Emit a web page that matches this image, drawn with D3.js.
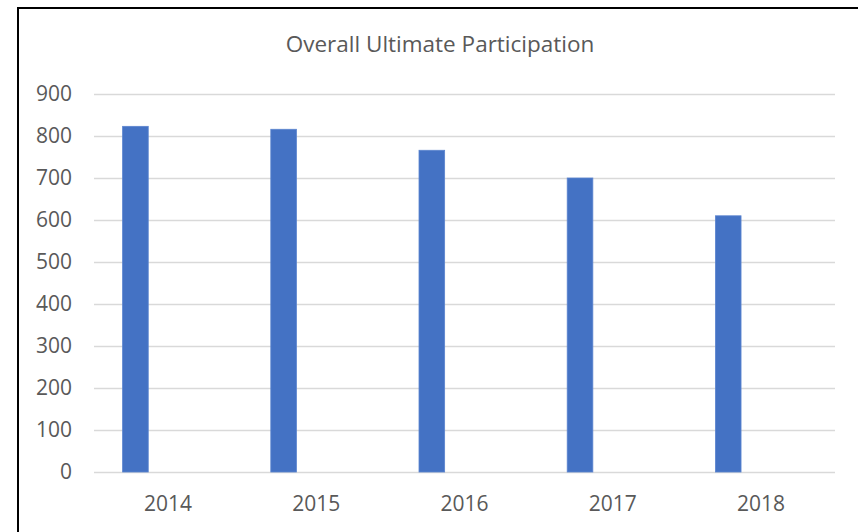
<!DOCTYPE html>
<html>
<head>
<meta charset="utf-8">
<script src="https://cdn.jsdelivr.net/npm/d3@7"></script>
<style>
  html, body { margin: 0; padding: 0; background: #fff; }
  svg { display: block; }
  text { font-family: "Open Sans", "DejaVu Sans", sans-serif; fill: #595959; }
</style>
</head>
<body>
<svg id="chart" width="858" height="532"></svg>
<script>
const title = "Overall Ultimate Participation";
const categories = ["2014", "2015", "2016", "2017", "2018"];
const values = [823, 816, 766, 700, 610];
const yTicks = [0, 100, 200, 300, 400, 500, 600, 700, 800, 900];

const svg = d3.select("#chart");
const W = 858, H = 532;
const plot = { left: 94, right: 835, top: 94, bottom: 472 };

svg.append("rect").attr("width", W).attr("height", H).attr("fill", "#fff");

// outer border (chart frame)
svg.append("rect")
  .attr("x", 18).attr("y", 8)
  .attr("width", W).attr("height", H)
  .attr("fill", "none").attr("stroke", "#000").attr("stroke-width", 2);

const x = d3.scaleBand().domain(categories).range([plot.left, plot.right]).padding(0);
const y = d3.scaleLinear().domain([0, 900]).range([plot.bottom, plot.top]);

// gridlines
svg.append("g").selectAll("line").data(yTicks).join("line")
  .attr("x1", plot.left).attr("x2", plot.right)
  .attr("y1", d => Math.round(y(d)) + 0.5).attr("y2", d => Math.round(y(d)) + 0.5)
  .attr("stroke", "#d9d9d9").attr("stroke-width", 1.5);

// y axis labels
const yAxis = d3.axisLeft(y).tickValues(yTicks).tickSize(0).tickPadding(0);
const gy = svg.append("g").attr("transform", `translate(72,0)`).call(yAxis);
gy.select(".domain").remove();
gy.selectAll("text").style("font-size", "21px").attr("fill", "#595959")
  .attr("font-family", "'Open Sans', sans-serif");

// x axis labels
const xAxis = d3.axisBottom(x).tickSize(0).tickPadding(0);
const gx = svg.append("g").attr("transform", `translate(0,496)`).call(xAxis);
gx.select(".domain").remove();
gx.selectAll("text").style("font-size", "21px").attr("fill", "#595959")
  .attr("font-family", "'Open Sans', sans-serif");

// bars
const bw = x.bandwidth();
svg.append("g").selectAll("rect").data(values).join("rect")
  .attr("x", (d, i) => x(categories[i]) + bw * 0.193)
  .attr("width", bw * 0.173)
  .attr("y", d => y(d))
  .attr("height", d => y(0) - y(d))
  .attr("fill", "#4472c4")
  .attr("stroke", "#5b84cf").attr("stroke-width", 0.8);

// title
svg.append("text")
  .attr("x", 440).attr("y", 52)
  .attr("text-anchor", "middle")
  .style("font-size", "22.5px")
  .text(title);
</script>
</body>
</html>
